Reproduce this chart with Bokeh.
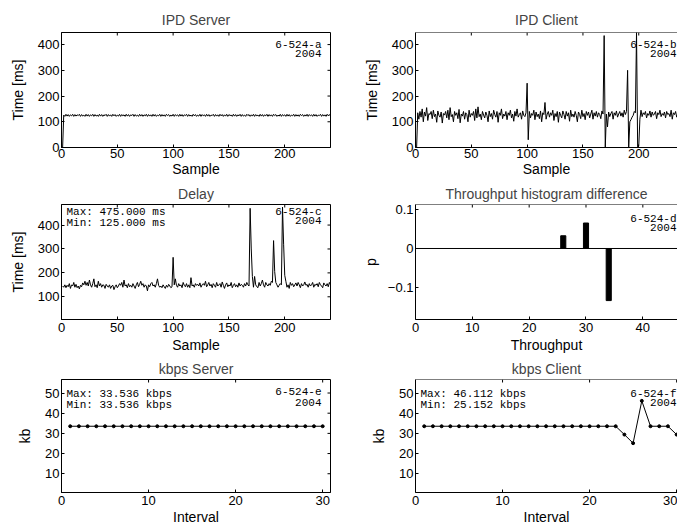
import math
from bokeh.plotting import figure
from bokeh.models import Range1d, Label, Span, FixedTicker
from bokeh.layouts import column, row
from bokeh.embed import file_html
from bokeh.resources import INLINE

# ---------------- data ----------------
samples = list(range(1, 242))

ipd_server = [0,
    126,121,129,122,128,121,127,123,129,121,128,122,127,124,129,121,128,122,126,121,
    129,122,128,121,127,123,129,121,128,122,126,121,129,122,128,121,127,124,129,121,
    128,122,127,121,129,123,128,121,126,122,129,121,128,123,127,121,129,122,128,121,
    127,124,129,121,128,122,126,121,129,122,128,121,127,123,129,121,128,122,127,121,
    129,122,128,121,126,123,129,121,128,122,127,121,129,124,128,121,126,122,129,121,
    128,123,127,121,129,122,128,121,127,124,129,121,128,122,126,121,129,123,128,121,
    126,122,129,121,128,123,127,121,129,122,128,121,126,124,129,121,128,122,127,121,
    129,123,128,121,127,122,129,121,128,124,126,121,129,122,128,121,127,123,129,121,
    128,122,126,121,129,124,128,121,127,122,129,121,128,123,126,121,129,122,128,121,
    127,123,129,121,128,122,127,121,129,124,128,121,126,122,129,121,128,123,127,121,
    129,122,128,121,126,123,129,121,128,122,127,121,129,124,128,121,127,122,129,121,
    128,123,127,121,129,122,128,121,126,124,129,121,128,122,127,121,129,123,128,122]

ipd_client = [0,
    135,110,140,118,150,100,138,122,155,105,132,128,140,112,145,120,130,98,142,125,
    118,138,95,132,126,140,115,145,108,155,120,128,100,140,125,135,112,148,96,130,
    122,140,110,135,128,100,145,118,132,125,140,105,150,115,158,120,130,108,140,126,
    115,138,125,100,142,120,132,110,145,128,118,140,98,135,125,150,112,130,122,140,
    108,135,125,145,115,130,102,140,122,150,118,128,135,110,142,125,120,135,250,30,
    140,115,132,125,145,108,138,120,130,112,142,100,135,128,175,110,130,140,118,135,
    125,145,105,132,120,140,98,138,125,115,142,128,110,140,122,135,102,145,120,130,
    118,140,125,100,138,128,112,145,120,132,108,140,125,138,115,130,145,110,135,122,
    140,118,135,128,112,142,130,435,0,130,80,138,120,132,140,110,135,125,142,118,
    130,140,122,135,118,145,128,140,300,0,100,108,118,125,140,135,447,0,5,110,
    145,120,135,128,140,115,132,125,142,118,138,125,130,140,112,135,128,145,120,132,
    125,138,115,140,128,132,120,145,110,135,128,140,118,132,125,142,115,138,128,135]

delay = [
    145,140,150,138,148,142,155,135,150,145,160,140,152,138,145,133,148,142,158,150,165,
    148,160,145,170,150,140,155,175,142,150,138,165,145,155,140,150,148,135,152,145,
    140,150,135,145,148,130,142,150,138,145,155,148,160,140,170,145,150,138,155,142,
    148,140,155,145,135,150,160,142,152,165,148,155,140,150,145,125,150,142,155,160,
    145,150,140,155,175,148,140,145,138,150,142,135,148,140,152,145,138,142,265,150,
    175,148,140,155,145,150,138,160,148,142,155,140,150,138,180,145,150,140,155,148,
    152,145,158,140,150,155,148,165,142,150,160,145,152,138,155,148,140,160,145,150,
    155,140,162,148,135,150,158,142,150,145,160,138,148,155,142,150,140,158,145,152,
    148,140,155,145,160,150,145,470,300,185,140,185,150,142,138,160,145,155,170,150,
    140,160,150,145,155,148,165,160,335,205,160,150,140,148,155,150,475,320,190,165,
    140,150,135,160,148,155,142,150,158,145,160,150,138,155,145,150,162,148,152,140,
    155,145,150,160,140,152,148,155,142,160,150,145,138,158,150,145,155,142,160,150]

hist_throughput = [26, 30, 34]
hist_p = [0.033, 0.066, -0.135]

intervals = list(range(1, 31))
kbps_server = [33.536, 33.536, 33.536, 33.536, 33.536, 33.536, 33.536, 33.536, 33.536, 33.536,
               33.536, 33.536, 33.536, 33.536, 33.536, 33.536, 33.536, 33.536, 33.536, 33.536,
               33.536, 33.536, 33.536, 33.536, 33.536, 33.536, 33.536, 33.536, 33.536, 33.536]
kbps_client = [33.536, 33.536, 33.536, 33.536, 33.536, 33.536, 33.536, 33.536, 33.536, 33.536,
               33.536, 33.536, 33.536, 33.536, 33.536, 33.536, 33.536, 33.536, 33.536, 33.536,
               33.536, 33.536, 33.536, 29.4, 25.152, 46.112, 33.536, 33.536, 33.536, 29.4]

# ---------------- styling helpers ----------------
SANS = "Liberation Sans"
MONO = "Liberation Mono"
TICK_FS = "13px"
LAB_FS = "14px"
TITLE_FS = "14px"
MONO_FS = "11px"


def style_axis(ax):
    ax.axis_line_color = "black"
    ax.axis_line_width = 1
    ax.major_tick_in = 3
    ax.major_tick_out = 0
    ax.minor_tick_line_color = None
    ax.major_tick_line_color = "black"
    ax.major_label_text_font = SANS
    ax.major_label_text_font_size = TICK_FS
    ax.major_label_text_color = "black"
    ax.major_label_standoff = 2
    ax.axis_label_text_font = SANS
    ax.axis_label_text_font_size = LAB_FS
    ax.axis_label_text_font_style = "normal"
    ax.axis_label_text_color = "black"


def make(title, xr, yr, xticks, yticks, xlabel, ylabel, width, height,
         bl, br, bt, bb, clipped, ylab_so, xtick_so, xlab_so, title_so):
    p = figure(width=width, height=height,
               x_range=Range1d(*xr), y_range=Range1d(*yr),
               output_backend="svg", toolbar_location=None, tools="",
               min_border_left=bl, min_border_right=br,
               min_border_top=bt, min_border_bottom=bb)
    p.grid.visible = False
    p.title.text = title
    p.title.align = "center"
    p.title.text_font = SANS
    p.title.text_font_size = TITLE_FS
    p.title.text_font_style = "normal"
    p.title.standoff = title_so
    p.xaxis.ticker = FixedTicker(ticks=xticks)
    p.yaxis.ticker = FixedTicker(ticks=yticks)
    p.xaxis.axis_label = xlabel
    p.yaxis.axis_label = ylabel
    for ax in p.xaxis + p.yaxis:
        style_axis(ax)
    p.yaxis.axis_label_standoff = ylab_so
    p.xaxis.major_label_standoff = xtick_so
    p.xaxis.axis_label_standoff = xlab_so
    # inward ticks on the top and right edges, Matlab style
    p.ray(x=xticks, y=[yr[1]] * len(xticks), length=3, length_units="screen",
          angle=-math.pi / 2, line_color="black", line_width=1)
    if clipped:
        p.outline_line_color = None
        p.add_layout(Span(location=yr[1], dimension="width",
                          line_color="black", line_width=1))
    else:
        p.outline_line_color = "black"
        p.outline_line_width = 1
        p.ray(x=[xr[1]] * len(yticks), y=yticks, length=3, length_units="screen",
              angle=math.pi, line_color="black", line_width=1)
    return p


def tag(p, xr, yr, letter, xoff, yoff):
    for i, t in enumerate(["6-524-" + letter, "2004"]):
        p.add_layout(Label(x=xr[1], y=yr[1], x_offset=xoff, y_offset=yoff - 11 * i,
                           text=t, text_align="right", text_baseline="top",
                           text_font=MONO, text_font_size=MONO_FS, text_color="black"))


def minmax(p, xr, yr, lines, yoff):
    for i, t in enumerate(lines):
        p.add_layout(Label(x=xr[0], y=yr[1], x_offset=5, y_offset=yoff - 11 * i,
                           text=t, text_align="left", text_baseline="top",
                           text_font=MONO, text_font_size=MONO_FS, text_color="black"))


LW, RW = 343, 334
LBL, RBL = 61, 72
LBR = 13
H1, H2, H3 = 180, 175, 172

# ---------------- row 1 ----------------
xr_l = (0, 241)
xr_r = (0, 234.7)
yr_ipd = (0, 447)
ipd_xt = [0, 50, 100, 150, 200]
ipd_yt = [0, 100, 200, 300, 400]

p1 = make("IPD Server", xr_l, yr_ipd, ipd_xt, ipd_yt, "Sample", "Time [ms]",
          LW, H1, LBL, LBR, 32, 33, False, 9, 1, 0, 9)
p1.line(samples, ipd_server, line_color="black", line_width=1)
tag(p1, xr_l, yr_ipd, "a", -9, -6)

p2 = make("IPD Client", xr_r, yr_ipd, ipd_xt, ipd_yt, "Sample", "Time [ms]",
          RW, H1, RBL, 0, 32, 33, True, 9, 1, 0, 9)
p2.line(samples, ipd_client, line_color="black", line_width=1)
tag(p2, xr_r, yr_ipd, "b", -1, -6)

# ---------------- row 2 ----------------
yr_delay = (5, 486)
p3 = make("Delay", xr_l, yr_delay, ipd_xt, [100, 200, 300, 400], "Sample", "Time [ms]",
          LW, H2, LBL, LBR, 24, 36, False, 9, 3, 2, 6)
p3.line(samples, delay, line_color="black", line_width=1)
tag(p3, xr_l, yr_delay, "c", -9, -1)
minmax(p3, xr_l, yr_delay, ["Max: 475.000 ms", "Min: 125.000 ms"], -1)

xr_h = (0, 46.1)
yr_h = (-0.184, 0.114)
p4 = make("Throughput histogram difference", xr_h, yr_h, [0, 10, 20, 30, 40],
          [-0.1, 0, 0.1], "Throughput", "p", RW, H2, RBL, 0, 24, 36, True, 6, 3, 2, 6)
p4.yaxis[0].major_label_overrides = {-0.1: "\u22120.1", 0: "0", 0.1: "0.1"}
p4.add_layout(Span(location=0, dimension="width", line_color="black", line_width=1))
p4.vbar(x=hist_throughput, top=hist_p, bottom=0, width=0.9,
        fill_color="black", line_color="black")
tag(p4, xr_h, yr_h, "d", -1, -8)

# ---------------- row 3 ----------------
xr_k = (0, 30.9)
xr_kr = (0, 30.1)
yr_k = (0.7, 56.7)
k_xt = [0, 10, 20, 30]
k_yt = [10, 20, 30, 40, 50]
p5 = make("kbps Server", xr_k, yr_k, k_xt, k_yt, "Interval", "kb",
          LW, H3, LBL, LBR, 23, 35, False, 9, 3, 1, 6)
p5.line(intervals, kbps_server, line_color="black", line_width=1)
p5.scatter(intervals, kbps_server, size=3, color="black")
tag(p5, xr_k, yr_k, "e", -9, -8)
minmax(p5, xr_k, yr_k, ["Max: 33.536 kbps", "Min: 33.536 kbps"], -8)

p6 = make("kbps Client", xr_kr, yr_k, k_xt, k_yt, "Interval", "kb",
          RW, H3, RBL, 0, 23, 35, True, 9, 3, 1, 6)
p6.line(intervals, kbps_client, line_color="black", line_width=1)
p6.scatter(intervals, kbps_client, size=3, color="black")
tag(p6, xr_kr, yr_k, "f", -1, -8)
minmax(p6, xr_kr, yr_k, ["Max: 46.112 kbps", "Min: 25.152 kbps"], -8)

layout = column(row(p1, p2), row(p3, p4), row(p5, p6))

open("out.html", "w").write(file_html(layout, INLINE))
